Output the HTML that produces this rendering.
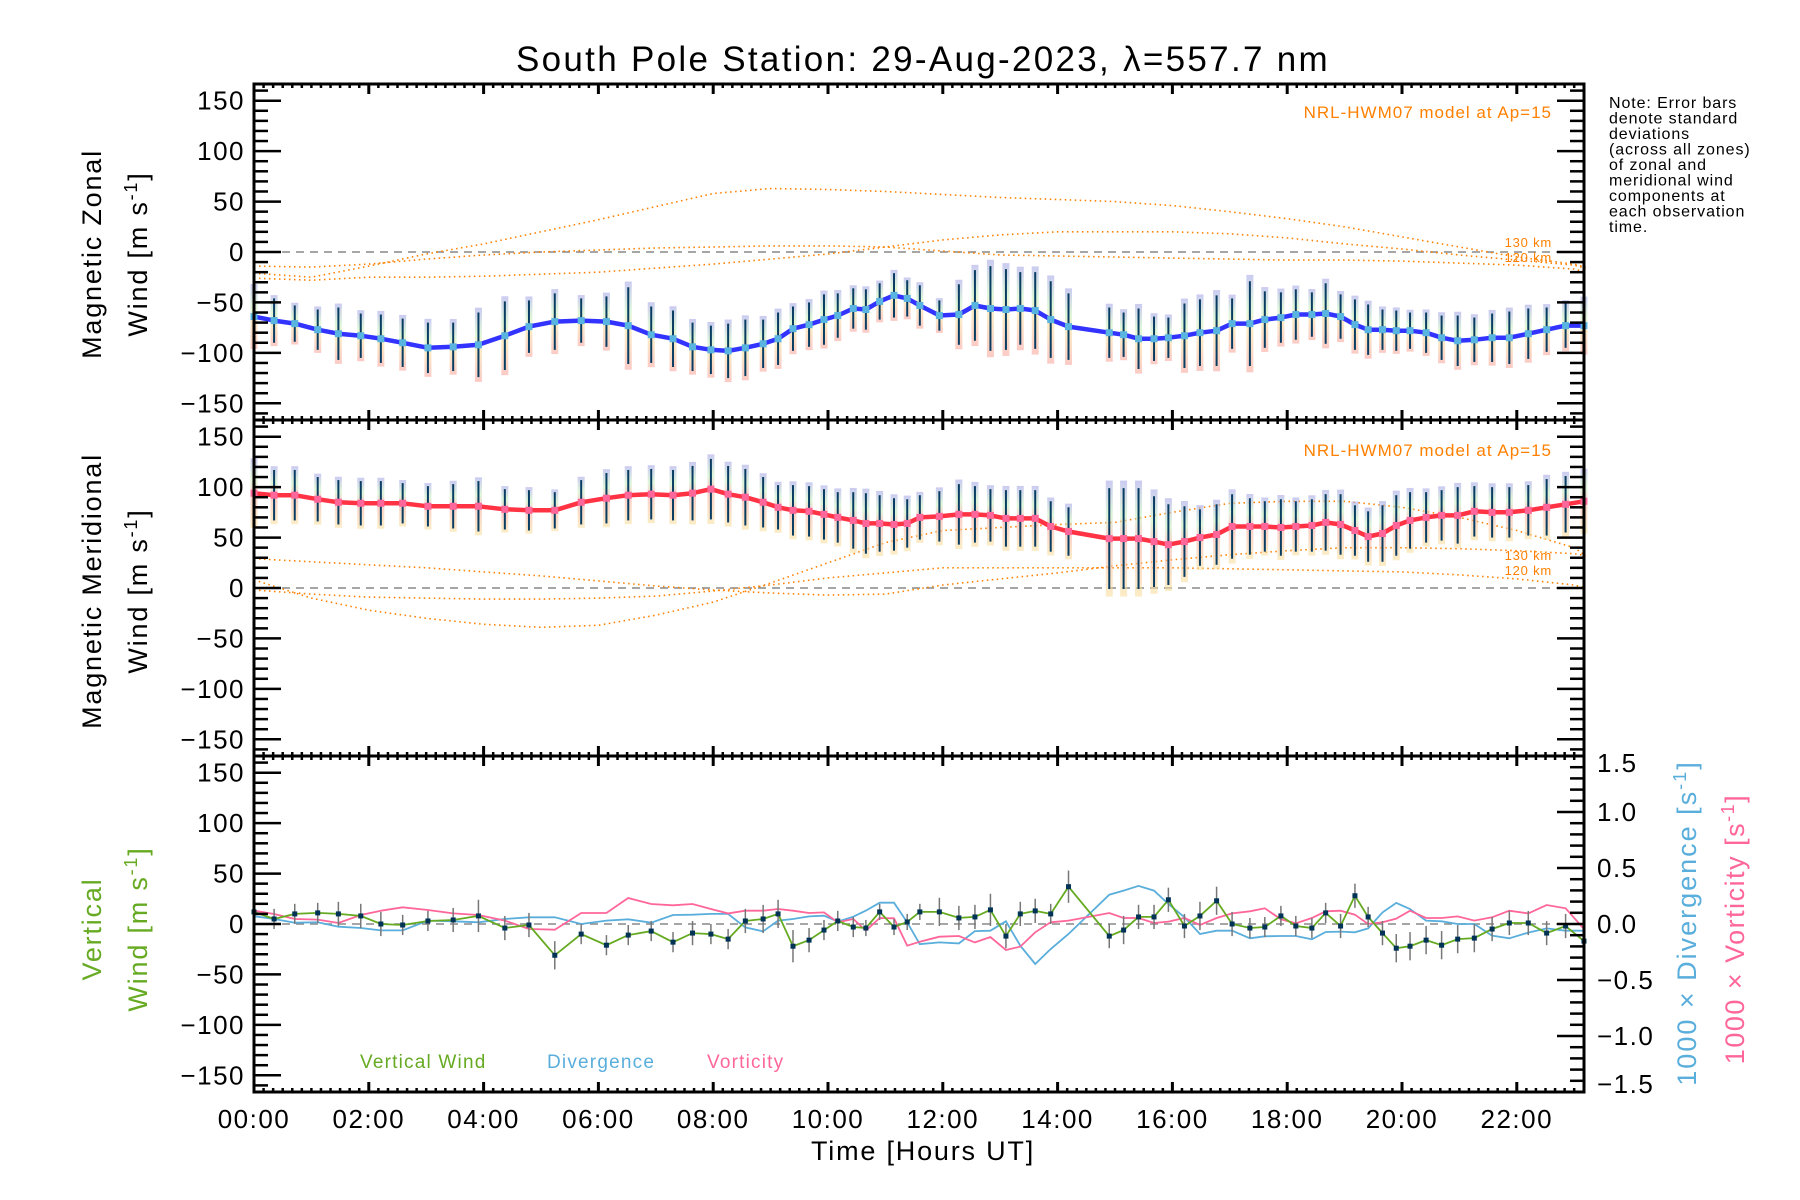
<!DOCTYPE html>
<html><head><meta charset="utf-8"><title>South Pole Station winds</title>
<style>
html,body{margin:0;padding:0;background:#fff;}
svg{display:block;font-family:"Liberation Sans",sans-serif;}
</style></head>
<body>
<svg id="chart" xmlns="http://www.w3.org/2000/svg" width="1800" height="1200" viewBox="0 0 1800 1200">
<defs>
<linearGradient id="gz" x1="0" y1="0" x2="0" y2="1"><stop offset="0" stop-color="#a8a8e8"/><stop offset="0.35" stop-color="#c8f0c0"/><stop offset="0.55" stop-color="#f8e0a0"/><stop offset="1" stop-color="#f8a8a0"/></linearGradient>
<linearGradient id="gm" x1="0" y1="0" x2="0" y2="1"><stop offset="0" stop-color="#a8a8e8"/><stop offset="0.3" stop-color="#c8f0c0"/><stop offset="0.5" stop-color="#f8b0a8"/><stop offset="1" stop-color="#f8e0a0"/></linearGradient>
</defs>
<text x="923" y="71" font-size="35" letter-spacing="2.3" text-anchor="middle">South Pole Station: 29-Aug-2023, λ=557.7 nm</text>
<g font-size="16" letter-spacing="0.9">
<text x="1609" y="108">Note: Error bars</text>
<text x="1609" y="123.5">denote standard</text>
<text x="1609" y="139">deviations</text>
<text x="1609" y="154.5">(across all zones)</text>
<text x="1609" y="170">of zonal and</text>
<text x="1609" y="185.5">meridional wind</text>
<text x="1609" y="201">components at</text>
<text x="1609" y="216.5">each observation</text>
<text x="1609" y="232">time.</text>
</g>
<g font-size="27" letter-spacing="1.8">
<text transform="translate(101,254) rotate(-90)" text-anchor="middle">Magnetic Zonal</text>
<text transform="translate(147,254) rotate(-90)" text-anchor="middle">Wind [m s<tspan dy="-10" font-size="18">-1</tspan><tspan dy="10">]</tspan></text>
</g>
<g font-size="27" letter-spacing="1.8">
<text transform="translate(101,591) rotate(-90)" text-anchor="middle">Magnetic Meridional</text>
<text transform="translate(147,591) rotate(-90)" text-anchor="middle">Wind [m s<tspan dy="-10" font-size="18">-1</tspan><tspan dy="10">]</tspan></text>
</g>
<g font-size="27" letter-spacing="1.8" fill="#66aa22">
<text transform="translate(101,929) rotate(-90)" text-anchor="middle">Vertical</text>
<text transform="translate(147,929) rotate(-90)" text-anchor="middle">Wind [m s<tspan dy="-10" font-size="18">-1</tspan><tspan dy="10">]</tspan></text>
</g>
<text transform="translate(1696,923) rotate(-90)" text-anchor="middle" font-size="27" letter-spacing="2" fill="#5aaedc">1000 × Divergence [s<tspan dy="-10" font-size="18">-1</tspan><tspan dy="10">]</tspan></text>
<text transform="translate(1744,929) rotate(-90)" text-anchor="middle" font-size="27" letter-spacing="1.5" fill="#ff6699">1000 × Vorticity [s<tspan dy="-10" font-size="18">-1</tspan><tspan dy="10">]</tspan></text>
<text x="923" y="1160" font-size="27" letter-spacing="1.8" text-anchor="middle">Time [Hours UT]</text>
<g font-size="19" letter-spacing="1.2">
<text x="360" y="1068" fill="#66aa22">Vertical Wind</text>
<text x="547" y="1068" fill="#5aaedc">Divergence</text>
<text x="707" y="1068" fill="#ff6699">Vorticity</text>
</g>
<g id="plot"></g>
</svg>
<script>
// ---- data ----
const times = [0.0,0.35,0.71,1.11,1.47,1.86,2.21,2.59,3.03,3.47,3.91,4.37,4.79,5.24,5.70,6.14,6.52,6.92,7.30,7.64,7.96,8.26,8.56,8.87,9.13,9.39,9.67,9.93,10.17,10.44,10.66,10.90,11.15,11.38,
11.60,11.94,12.28,12.56,12.83,13.10,13.35,13.61,13.88,14.19,14.90,15.15,15.41,15.68,15.93,16.21,16.48,16.77,17.04,17.35,17.61,17.89,18.15,18.43,18.67,18.93,19.18,19.41,19.66,19.90,20.14,20.42,20.69,20.97,21.26,21.57,21.87,22.20,22.52,22.85,23.17];
const zonal = [-64,-68,-71,-77,-81,-83,-86,-90,-95,-94,-92,-83,-74,-69,-68,-69,-73,-82,-86,-94,-97,-98,-95,-91,-86,-76,-72,-67,-63,-56,-57,-49,-43,-46,
-53,-63,-62,-53,-56,-57,-56,-58,-67,-74,-80,-82,-86,-86,-85,-83,-80,-78,-71,-71,-67,-65,-62,-62,-61,-64,-72,-77,-77,-78,-78,-80,-85,-88,-87,-85,-85,-81,-77,-73,-73];
const zonalStd = [28,22,18,20,26,22,24,24,25,24,32,34,26,28,22,25,38,28,28,24,24,27,28,24,26,22,22,25,22,20,20,18,22,18,
20,15,30,35,42,40,36,38,38,33,25,22,30,22,20,32,33,35,25,42,28,25,25,22,30,22,25,25,20,20,18,20,22,25,22,24,26,25,22,22,25];
const meridional = [94,92,92,88,85,84,84,84,81,81,81,78,77,77,85,89,92,93,92,94,98,93,90,85,80,77,76,73,70,67,64,64,63,64,
70,71,73,73,72,69,69,69,61,56,49,49,49,46,43,46,50,53,61,61,61,60,61,62,65,63,57,51,54,62,67,70,72,72,76,75,75,77,80,83,86];
const meridionalStd = [30,25,25,22,22,22,22,20,20,22,25,20,20,18,22,25,25,25,25,27,30,28,28,25,22,25,25,25,25,28,30,28,26,24,
22,25,30,28,26,28,28,28,25,24,50,50,50,45,40,35,28,30,32,28,25,28,25,26,28,30,25,25,28,30,28,25,25,28,25,25,25,25,28,28,28];
const vertical = [12,5,10,11,10,8,0,-1,3,4,8,-4,-1,-31,-10,-21,-11,-7,-18,-9,-10,-15,3,5,10,-22,-16,-6,3,-3,-4,12,-3,2,
12,12,6,7,14,-12,10,13,10,37,-12,-6,7,7,24,-2,8,23,0,-4,-3,8,-2,-4,11,-2,28,7,-9,-24,-22,-16,-21,-15,-14,-5,1,1,-9,-2,-17];
const verticalStd = [10,10,10,10,12,12,12,10,10,12,16,12,12,14,10,10,10,10,10,12,10,10,12,14,14,16,12,10,10,10,8,8,8,8,
8,14,12,12,16,12,12,12,10,16,12,14,12,12,12,12,14,14,12,10,10,10,10,10,10,12,12,10,12,14,14,14,14,14,14,12,12,12,12,12,12];
const divergence = [0.07,0.045,0.012,0.015,-0.024,-0.036,-0.057,-0.057,0.03,0.024,0.015,0.045,0.06,0.06,0,0.03,0.042,0.012,0.08,0.083,0.09,0.09,-0.03,-0.065,0.03,0.045,0.068,0.074,0.021,0.065,0.12,0.19,0.19,0.015,
-0.18,-0.164,-0.173,-0.063,-0.06,0.024,-0.194,-0.357,-0.223,-0.089,0.262,0.298,0.34,0.298,0.179,0.06,-0.089,-0.06,-0.06,-0.128,-0.11,-0.107,-0.107,-0.137,-0.071,-0.068,-0.074,-0.039,0.104,0.188,0.134,0.03,0.024,0,0,-0.104,-0.128,-0.077,-0.039,-0.06,-0.06];
const vorticity = [0.119,0.089,0.045,0.039,0.009,0.08,0.119,0.149,0.125,0.095,0.08,0.03,-0.045,-0.051,0.098,0.098,0.232,0.179,0.167,0.179,0.134,0.095,0.119,0.119,0.134,0.119,0.098,0.104,0.015,0.045,-0.06,0.054,0.051,-0.194,
-0.158,-0.113,-0.107,-0.164,-0.116,-0.232,-0.202,-0.074,0.015,0.03,0.098,0.054,0.054,0.009,0.021,0.054,-0.009,0.054,0.095,0.113,0.14,0.042,0.006,0.054,0.113,0.119,0.083,0,0.015,0.048,0.119,0.054,0.054,0.068,0.03,0.06,0.119,0.095,0.17,0.14,-0.045];
const modelHours = [0,1,2,3,4,5,6,7,8,9,10,11,12,13,14,15,16,17,18,19,20,21,22,23,23.2];
const zonalModelA = [-14,-15,-12,-7,-3,0,2,4,5,6,6,5,1,-3,-4,-5,-6,-7,-8,-8,-9,-11,-13,-17,-20];
const zonalModelB = [-21,-25,-14,-2,8,20,32,45,58,63,62,60,57,54,52,50,46,40,33,25,15,5,-5,-12,-15];
const zonalModelC = [-26,-28,-25,-25,-24,-22,-20,-16,-12,-7,-2,5,12,17,20,20,20,18,14,8,3,-3,-8,-13,-16];
const merModelA = [8,-10,-22,-30,-36,-39,-37,-27,-14,5,25,45,57,60,63,65,75,84,86,86,80,70,57,40,32];
const merModelB = [-2,-6,-9,-10,-11,-11,-10,-8,-3,3,10,15,20,20,20,20,20,19,18,17,16,13,9,3,0];
const merModelC = [29,26,23,20,16,12,7,2,-2,-5,-7,-6,3,9,15,22,28,33,37,40,40,39,37,34,32];
const yTicks = [-150,-100,-50,0,50,100,150];
const rightTicks = [-1.5,-1.0,-0.5,0.0,0.5,1.0,1.5];
const xTickLabels = ["00:00","02:00","04:00","06:00","08:00","10:00","12:00","14:00","16:00","18:00","20:00","22:00"];

// ---- scales ----
const X0 = 254, X1 = 1584, PXH = 57.4;
const panelTops = [84, 420, 756];
const PH = 336, PPU = 1.0087;
function xs(h){ return X0 + h*PXH; }
function ys(p, v){ return panelTops[p] + PH/2 - v*PPU; }
function yr(v){ return panelTops[2] + PH/2 - v*112; }

const NS = "http://www.w3.org/2000/svg";
const plot = document.getElementById('plot');
function mk(tag, attrs, name, parent){
  const el = document.createElementNS(NS, tag);
  for (const k in attrs) el.setAttribute(k, attrs[k]);
  
  
  (parent || plot).appendChild(el);
  return el;
}
function poly(xsArr, ysArr){ return xsArr.map((x,i)=>x.toFixed(1)+','+ysArr[i].toFixed(1)).join(' '); }

for (let p=0;p<3;p++){
  mk('line',{x1:X0,x2:X1,y1:ys(p,0),y2:ys(p,0),stroke:'#888','stroke-width':1.5,'stroke-dasharray':'8,6'},'zero-line');
}

function model(p, arr, name){
  mk('polyline',{points:poly(modelHours.map(xs), arr.map(v=>ys(p,v))),fill:'none',stroke:'#ff8000','stroke-width':1.6,'stroke-dasharray':'1.5,3.5'},name);
}
model(0, zonalModelA, 'zonal-model-120km');
model(0, zonalModelB, 'zonal-model-a');
model(0, zonalModelC, 'zonal-model-130km');
model(1, merModelA, 'meridional-model-a');
model(1, merModelB, 'meridional-model-120km');
model(1, merModelC, 'meridional-model-130km');

function windPanel(p, vals, stds, grad, lineColor, ptColor, name){
  const g = mk('g',{},name+'-series');
  times.forEach((t,i)=>{
    const x = xs(t);
    mk('rect',{x:x-3.5,y:ys(p,vals[i]+stds[i]*1.15),width:7,height:stds[i]*2.3*PPU,fill:'url(#'+grad+')',opacity:0.6},name+'-zone-spread',g);
  });
  times.forEach((t,i)=>{
    const x = xs(t);
    mk('line',{x1:x,x2:x,y1:ys(p,vals[i]+stds[i]),y2:ys(p,vals[i]-stds[i]),stroke:'#0a3d62','stroke-width':2},name+'-error-bar',g);
  });
  mk('polyline',{points:poly(times.map(xs), vals.map(v=>ys(p,v))),fill:'none',stroke:lineColor,'stroke-width':4.5,'stroke-linejoin':'round'},name+'-mean-line',g);
  times.forEach((t,i)=>{
    mk('rect',{x:xs(t)-3.5,y:ys(p,vals[i])-3.5,width:7,height:7,fill:ptColor},name+'-point',g);
  });
}
windPanel(0, zonal, zonalStd, 'gz', '#3333ff', '#5ab4e0', 'zonal');
windPanel(1, meridional, meridionalStd, 'gm', '#ff3344', '#ff6699', 'meridional');

const gv = mk('g',{},'vertical-panel-series');
mk('polyline',{points:poly(times.map(xs), divergence.map(yr)),fill:'none',stroke:'#5aaedc','stroke-width':1.8},'divergence-line',gv);
mk('polyline',{points:poly(times.map(xs), vorticity.map(yr)),fill:'none',stroke:'#ff6699','stroke-width':1.8},'vorticity-line',gv);
times.forEach((t,i)=>{
  const x = xs(t);
  mk('line',{x1:x,x2:x,y1:ys(2,vertical[i]+verticalStd[i]),y2:ys(2,vertical[i]-verticalStd[i]),stroke:'#777','stroke-width':1.5},'vertical-error-bar',gv);
});
mk('polyline',{points:poly(times.map(xs), vertical.map(v=>ys(2,v))),fill:'none',stroke:'#66aa22','stroke-width':1.8},'vertical-wind-line',gv);
times.forEach((t,i)=>{
  mk('rect',{x:xs(t)-2.5,y:ys(2,vertical[i])-2.5,width:5,height:5,fill:'#003355'},'vertical-wind-point',gv);
});

[[0,112],[1,450]].forEach(([p,y])=>{
  mk('text',{x:1552,y:y+6,'font-size':17,'letter-spacing':1,fill:'#ff8000','text-anchor':'end'},'model-label').textContent='NRL-HWM07 model at Ap=15';
});
[[0,243,258],[1,556,571]].forEach(([p,a,b])=>{
  mk('text',{x:1552,y:a+4,'font-size':13,'letter-spacing':0.8,fill:'#ff8000','text-anchor':'end'},'model-130km-label').textContent='130 km';
  mk('text',{x:1552,y:b+4,'font-size':13,'letter-spacing':0.8,fill:'#ff8000','text-anchor':'end'},'model-120km-label').textContent='120 km';
});

const ax = mk('g',{},'axes');
for (let p=0;p<3;p++){
  const top = panelTops[p], bot = top+PH;
  mk('rect',{x:X0,y:top,width:X1-X0,height:PH,fill:'none',stroke:'#000','stroke-width':3},'panel-frame',ax);
  for (let v=-160; v<=160; v+=10){
    const y = ys(p,v), major = (v%50===0);
    const L = major?27:14;
    mk('line',{x1:X0,x2:X0+L,y1:y,y2:y,stroke:'#000','stroke-width':2.5},'y-tick',ax);
    if (p<2) mk('line',{x1:X1,x2:X1-L,y1:y,y2:y,stroke:'#000','stroke-width':2.5},'y-tick-right',ax);
  }
  yTicks.forEach(v=>{
    const t = mk('text',{x:245,y:ys(p,v)+9,'font-size':26,'letter-spacing':1.5,'text-anchor':'end'},'y-tick-label',ax);
    t.textContent = (v<0?'\u2212':'')+Math.abs(v);
  });
  for (let m=0; m<=23.17*6; m++){
    const x = xs(m/6), major = (m%12===0);
    const L = major?10:4;
    mk('line',{x1:x,x2:x,y1:bot,y2:bot-L,stroke:'#000','stroke-width':major?3:2.5},'x-tick',ax);
    mk('line',{x1:x,x2:x,y1:top,y2:top+L,stroke:'#000','stroke-width':major?3:2.5},'x-tick-top',ax);
  }
}
for (let k=-15;k<=15;k++){
  const y = yr(k/10), major = (k%5===0);
  mk('line',{x1:X1,x2:X1-(major?27:14),y1:y,y2:y,stroke:'#000','stroke-width':2.5},'right-y-tick',ax);
}
rightTicks.forEach(v=>{
  const shift = v===1.5 ? 7 : (v===-1.5 ? -8 : 0);
  const t = mk('text',{x:1597,y:yr(v)+9+shift,'font-size':26,'letter-spacing':1.5},'right-y-tick-label',ax);
  t.textContent = (v<0?'\u2212':'')+Math.abs(v).toFixed(1);
});
xTickLabels.forEach((s,i)=>{
  const t = mk('text',{x:xs(i*2),y:1128,'font-size':26,'letter-spacing':1.5,'text-anchor':'middle'},'x-tick-label',ax);
  t.textContent = s;
});
</script>
</body></html>
